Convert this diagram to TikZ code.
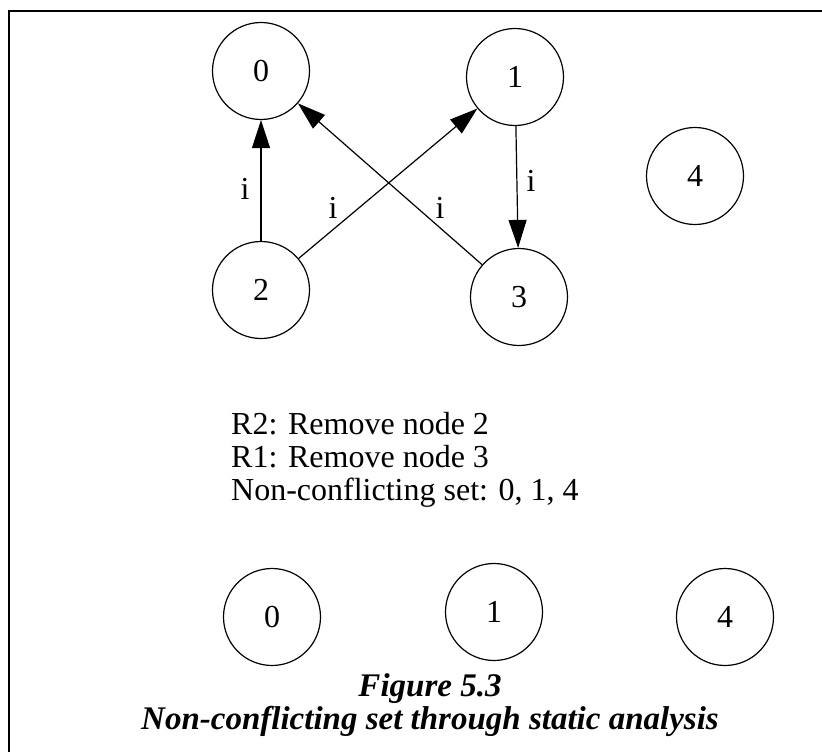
\documentclass[tikz,border=0pt]{standalone}
\usepackage{fontspec}
\setmainfont{Liberation Serif}
\usetikzlibrary{arrows.meta}
\begin{document}
\begin{tikzpicture}[x=1pt,y=-1pt,
  state/.style={draw,circle,line width=1.2pt,minimum size=97pt,inner sep=0pt,
                font=\fontsize{32}{32}\selectfont},
  edge/.style={line width=1.2pt,-{Triangle[length=28pt,width=18pt]}},
  elabel/.style={font=\fontsize{32}{32}\selectfont,inner sep=0pt},
  body/.style={font=\fontsize{32}{33}\selectfont,align=left,inner sep=0pt,anchor=north west},
  caption/.style={font=\fontsize{33}{33}\selectfont\bfseries\itshape,inner sep=0pt,anchor=base}]
  \useasboundingbox (0,0) rectangle (822,752);
  % open frame: top and left sides
  \draw[line width=2.2pt] (822,11) -- (9,11) -- (9,752);

  % conflict graph
  \node[state] (n0) at (261,71) {0};
  \node[state] (n1) at (515,77) {1};
  \node[state] (n4) at (695,176) {4};
  \node[state] (n2) at (261,290) {2};
  \node[state] (n3) at (519,297) {3};

  \draw[edge] (n2) -- (n0);
  \draw[edge] (n2) -- (n1);
  \draw[edge] (n3) -- (n0);
  \draw[edge] (n1) -- (n3);

  \node[elabel] (l20) at (245,189) {i};
  \node[elabel] (l21) at (333,208) {i};
  \node[elabel] (l30) at (440,208) {i};
  \node[elabel] (l13) at (531,181) {i};

  % resolution steps
  \node[body] (steps) at (231,412) {R2: Remove node 2\\R1: Remove node 3\\Non-conflicting set: 0, 1, 4};

  % resulting set
  \node[state] (m0) at (272,617) {0};
  \node[state] (m1) at (494,612) {1};
  \node[state] (m4) at (725,617) {4};

  % caption
  \node[caption] (cap1) at (430,696) {Figure 5.3};
  \node[caption] (cap2) at (430,729) {Non-conflicting set through static analysis};
\end{tikzpicture}
\end{document}
